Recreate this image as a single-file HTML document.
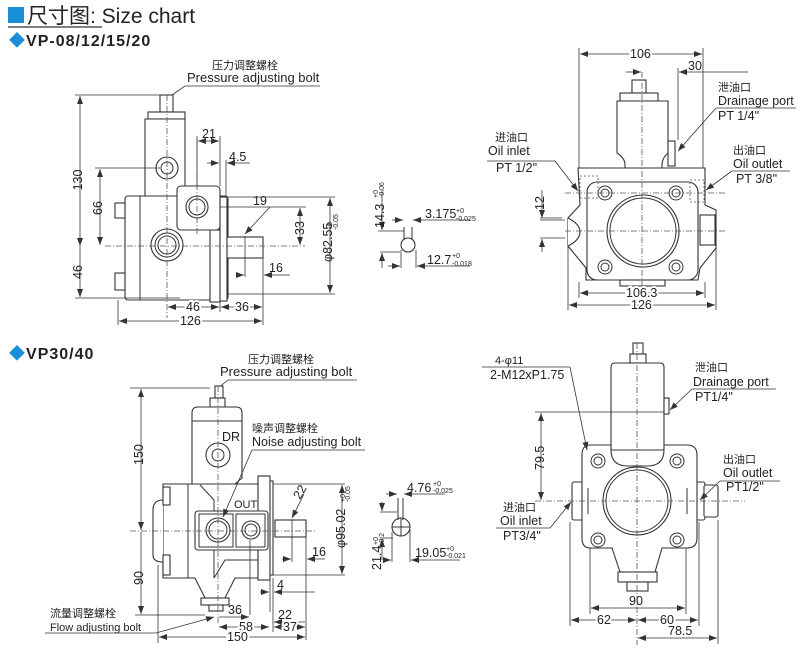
<!DOCTYPE html>
<html><head><meta charset="utf-8"><style>
html,body{margin:0;padding:0;background:#fff;width:811px;height:671px;overflow:hidden}
svg{display:block}
text{font-family:"Liberation Sans","Noto Sans CJK SC",sans-serif;fill:#222}
.l{stroke:#333;stroke-width:1;fill:none}
.b{stroke:#333;stroke-width:1.1;fill:#fff}
.c{stroke:#555;stroke-width:.8;fill:none;stroke-dasharray:6 2 1 2}
.h{stroke:#555;stroke-width:.8;fill:none;stroke-dasharray:2 2}
.d{stroke:#333;stroke-width:.8;fill:none}
.t{font-size:12.5px}
.s{font-size:11px}
.x{font-size:7px}
</style></head><body>
<svg width="811" height="671" viewBox="0 0 811 671" xmlns="http://www.w3.org/2000/svg">
<defs>
<marker id="a" markerWidth="8" markerHeight="6" refX="8" refY="3" orient="auto-start-reverse" markerUnits="userSpaceOnUse"><path d="M0,0 L8,3 L0,6z" fill="#333"/></marker>
</defs>
<!-- Title -->
<rect x="8" y="7" width="16" height="16" fill="#1a8fd8"/>
<text x="27" y="23" style="font-size:21px">尺寸图: Size chart</text>
<line x1="8" y1="27" x2="102" y2="27" stroke="#333" stroke-width="1.2"/>
<text x="9" y="46" style="font-size:16px;font-weight:bold;letter-spacing:1px"><tspan fill="#1a8fd8">◆</tspan>VP-08/12/15/20</text>
<text x="9" y="359" style="font-size:16px;font-weight:bold;letter-spacing:1px"><tspan fill="#1a8fd8">◆</tspan>VP30/40</text>

<!-- ===== VP08 side view ===== -->
<text x="212" y="69" class="s">压力调整螺栓</text>
<text x="187" y="82" class="t" style="font-size:13px">Pressure adjusting bolt</text>
<path class="d" d="M320,86 H185 L172,95"/>
<rect class="b" x="160" y="95" width="13" height="17"/>
<rect class="b" x="148" y="112" width="37" height="7"/>
<path class="b" d="M145,119 H185 V196 H145z"/>
<rect class="b" x="125" y="196" width="103" height="104" rx="3"/>
<rect class="b" x="115" y="203" width="10" height="15"/>
<rect class="b" x="115" y="273" width="10" height="17"/>
<line class="l" x1="140" y1="196" x2="140" y2="300"/>
<rect class="b" x="210" y="230" width="10" height="72"/>
<rect class="b" x="220" y="197" width="7" height="104"/>
<rect class="b" x="177" y="186" width="43" height="44" rx="4"/>
<rect class="b" x="227" y="237" width="36" height="21"/>
<circle class="b" cx="167" cy="168" r="11"/><circle class="l" cx="167" cy="168" r="6"/>
<circle class="b" cx="197" cy="207" r="11"/><circle class="l" cx="197" cy="207" r="8"/>
<circle class="b" cx="167" cy="245" r="16"/><circle class="l" cx="167" cy="245" r="12"/><circle class="l" cx="167" cy="245" r="9"/>
<line class="c" x1="167" y1="95" x2="167" y2="318"/>
<line class="c" x1="105" y1="246" x2="305" y2="246"/>
<line class="c" x1="197" y1="140" x2="197" y2="235"/>
<!-- dims -->
<line class="d" x1="75" y1="95" x2="160" y2="95"/>
<line class="d" x1="75" y1="298" x2="180" y2="298"/>
<line class="d" x1="80" y1="96" x2="80" y2="246" marker-start="url(#a)" marker-end="url(#a)"/>
<line class="d" x1="80" y1="246" x2="80" y2="297" marker-end="url(#a)"/>
<text transform="translate(82,180) rotate(-90)" class="t" text-anchor="middle">130</text>
<text transform="translate(82,272) rotate(-90)" class="t" text-anchor="middle">46</text>
<line class="d" x1="95" y1="168" x2="160" y2="168"/>
<line class="d" x1="100" y1="169" x2="100" y2="245" marker-start="url(#a)" marker-end="url(#a)"/>
<text transform="translate(102,208) rotate(-90)" class="t" text-anchor="middle">66</text>
<line class="d" x1="197" y1="136" x2="197" y2="186"/><line class="d" x1="220" y1="136" x2="220" y2="186"/>
<line class="d" x1="198" y1="141" x2="219" y2="141" marker-start="url(#a)" marker-end="url(#a)"/>
<text x="202" y="138" class="t">21</text>
<line class="d" x1="226" y1="160" x2="226" y2="196"/>
<line class="d" x1="207" y1="163" x2="219" y2="163" marker-end="url(#a)"/>
<line class="d" x1="238" y1="163" x2="227" y2="163" marker-end="url(#a)"/><line class="d" x1="238" y1="163" x2="250" y2="163"/>
<text x="229" y="161" class="t">4.5</text>
<line class="d" x1="220" y1="207" x2="306" y2="207"/>
<text x="253" y="205" class="t">19</text>
<line class="d" x1="270" y1="207" x2="245" y2="234" marker-end="url(#a)"/>
<line class="d" x1="245" y1="236" x2="245" y2="277"/>
<line class="d" x1="300" y1="208" x2="300" y2="245" marker-start="url(#a)" marker-end="url(#a)"/>
<text transform="translate(304,228) rotate(-90)" class="t" text-anchor="middle">33</text>
<line class="d" x1="228" y1="197" x2="335" y2="197"/><line class="d" x1="228" y1="294" x2="335" y2="294"/>
<line class="d" x1="330" y1="198" x2="330" y2="293" marker-start="url(#a)" marker-end="url(#a)"/>
<text transform="translate(332,262) rotate(-90)" class="t">φ82.55</text>
<text transform="translate(332,230) rotate(-90)" class="x">+0</text><text transform="translate(338,230) rotate(-90)" class="x">-0.05</text>
<line class="d" x1="240" y1="275" x2="244" y2="275" marker-end="url(#a)"/>
<line class="d" x1="280" y1="275" x2="264" y2="275" marker-end="url(#a)"/><line class="d" x1="280" y1="275" x2="290" y2="275"/>
<line class="d" x1="263" y1="258" x2="263" y2="325"/>
<text x="269" y="272" class="t">16</text>
<line class="d" x1="220" y1="302" x2="220" y2="312"/><line class="d" x1="118" y1="300" x2="118" y2="325"/>
<line class="d" x1="168" y1="307" x2="219" y2="307" marker-start="url(#a)" marker-end="url(#a)"/>
<text x="186" y="311" class="t" style="fill:#222;paint-order:stroke;stroke:#fff;stroke-width:4">46</text>
<line class="d" x1="221" y1="307" x2="262" y2="307" marker-start="url(#a)" marker-end="url(#a)"/>
<text x="235" y="311" class="t" style="paint-order:stroke;stroke:#fff;stroke-width:4">36</text>
<line class="d" x1="119" y1="321" x2="262" y2="321" marker-start="url(#a)" marker-end="url(#a)"/>
<text x="180" y="325" class="t" style="paint-order:stroke;stroke:#fff;stroke-width:4">126</text>

<!-- VP08 key -->
<circle class="b" cx="408" cy="245" r="7"/>
<line class="l" x1="404" y1="227" x2="404" y2="240"/><line class="l" x1="412" y1="227" x2="412" y2="240"/>
<line class="d" x1="378" y1="231" x2="404" y2="231"/>
<line class="d" x1="382" y1="190" x2="382" y2="230" marker-end="url(#a)"/>
<text transform="translate(384,228) rotate(-90)" class="t">14.3</text>
<text transform="translate(378,198) rotate(-90)" class="x">+0</text><text transform="translate(384,198) rotate(-90)" class="x">-0.06</text>
<line class="d" x1="392" y1="220" x2="403" y2="220" marker-end="url(#a)"/>
<line class="d" x1="423" y1="220" x2="413" y2="220" marker-end="url(#a)"/><line class="d" x1="423" y1="220" x2="470" y2="220"/>
<text x="425" y="218" class="t">3.175</text><text x="456" y="213" class="x">+0</text><text x="456" y="221" class="x">-0.025</text>
<line class="d" x1="380" y1="252" x2="400" y2="252"/>
<line class="d" x1="382" y1="268" x2="382" y2="253" marker-end="url(#a)"/>
<line class="d" x1="401" y1="250" x2="401" y2="268"/><line class="d" x1="416" y1="250" x2="416" y2="268"/>
<line class="d" x1="388" y1="266" x2="400" y2="266" marker-end="url(#a)"/>
<line class="d" x1="430" y1="266" x2="417" y2="266" marker-end="url(#a)"/><line class="d" x1="430" y1="266" x2="470" y2="266"/>
<text x="427" y="264" class="t">12.7</text><text x="452" y="258" class="x">+0</text><text x="452" y="266" class="x">-0.018</text>

<!-- ===== VP08 front view ===== -->
<rect class="b" x="632" y="80" width="14" height="13"/>
<rect class="b" x="620" y="93" width="38" height="8"/>
<path class="b" d="M617,101 H668 V153 Q662,158 662,165 V175 L672,182 H617 L625,175 V165 Q625,158 617,153z"/>
<rect class="b" x="668" y="141" width="7" height="25"/>
<path class="b" d="M578,168 H705 V205 L716,210 L716,248 L700,268 L698,280 H586 V268 L568,246 V218 L580,205z"/>
<path class="b" d="M568,218 Q580,224 580,232 Q580,240 568,246"/>
<rect class="b" x="700" y="215" width="15" height="30"/>
<rect class="b" x="587" y="182" width="111" height="98" rx="10"/>
<rect class="b" x="620" y="280" width="45" height="6"/>
<circle class="b" cx="643" cy="231" r="36"/><circle class="l" cx="643" cy="231" r="33"/>
<g class="l"><circle cx="605" cy="193" r="7"/><circle cx="605" cy="193" r="4"/><circle cx="676" cy="193" r="7"/><circle cx="676" cy="193" r="4"/><circle cx="605" cy="267" r="7"/><circle cx="605" cy="267" r="4"/><circle cx="676" cy="267" r="7"/><circle cx="676" cy="267" r="4"/></g>
<rect class="h" x="580" y="176" width="18" height="22"/><rect class="h" x="690" y="180" width="14" height="22"/>
<line class="c" x1="642" y1="72" x2="642" y2="290"/>
<line class="c" x1="565" y1="231" x2="725" y2="231"/>
<line class="c" x1="565" y1="193" x2="725" y2="193"/>
<line class="d" x1="579" y1="48" x2="579" y2="168"/><line class="d" x1="703" y1="48" x2="703" y2="168"/>
<line class="d" x1="580" y1="54" x2="702" y2="54" marker-start="url(#a)" marker-end="url(#a)"/>
<text x="630" y="58" class="t" style="paint-order:stroke;stroke:#fff;stroke-width:4">106</text>
<line class="d" x1="626" y1="72" x2="641" y2="72" marker-end="url(#a)"/>
<line class="d" x1="748" y1="72" x2="679" y2="72" marker-end="url(#a)"/>
<line class="d" x1="678" y1="68" x2="678" y2="140"/>
<text x="688" y="70" class="t">30</text>
<text x="718" y="91" class="s">泄油口</text>
<text x="718" y="105" class="t">Drainage port</text>
<line class="d" x1="716" y1="108" x2="796" y2="108"/>
<text x="718" y="120" class="t">PT 1/4"</text>
<line class="d" x1="716" y1="108" x2="678" y2="151" marker-end="url(#a)"/>
<text x="495" y="141" class="s">进油口</text>
<text x="488" y="155" class="t">Oil inlet</text>
<line class="d" x1="487" y1="161" x2="555" y2="161"/>
<text x="496" y="172" class="t">PT 1/2"</text>
<line class="d" x1="555" y1="161" x2="578" y2="191" marker-end="url(#a)"/>
<text x="733" y="154" class="s">出油口</text>
<text x="733" y="168" class="t">Oil outlet</text>
<line class="d" x1="732" y1="171" x2="790" y2="171"/>
<text x="736" y="183" class="t">PT 3/8"</text>
<line class="d" x1="732" y1="171" x2="706" y2="190" marker-end="url(#a)"/>
<line class="d" x1="540" y1="218" x2="562" y2="218"/>
<line class="d" x1="540" y1="238" x2="565" y2="238"/><line class="d" x1="540" y1="220" x2="565" y2="220"/>
<line class="d" x1="542" y1="190" x2="542" y2="218" marker-end="url(#a)"/>
<line class="d" x1="542" y1="252" x2="542" y2="239" marker-end="url(#a)"/>
<text transform="translate(544,210) rotate(-90)" class="t">12</text>
<line class="d" x1="579" y1="282" x2="579" y2="298"/><line class="d" x1="705" y1="282" x2="705" y2="298"/>
<line class="d" x1="568" y1="246" x2="568" y2="310"/><line class="d" x1="716" y1="248" x2="716" y2="310"/>
<line class="d" x1="580" y1="293" x2="704" y2="293" marker-start="url(#a)" marker-end="url(#a)"/>
<text x="626" y="297" class="t" style="paint-order:stroke;stroke:#fff;stroke-width:4">106.3</text>
<line class="d" x1="569" y1="305" x2="715" y2="305" marker-start="url(#a)" marker-end="url(#a)"/>
<text x="631" y="309" class="t" style="paint-order:stroke;stroke:#fff;stroke-width:4">126</text>

<!-- ===== VP30 side view ===== -->
<text x="248" y="363" class="s">压力调整螺栓</text>
<text x="220" y="376" class="t" style="font-size:13px">Pressure adjusting bolt</text>
<path class="d" d="M357,380 H228 L218,388"/>
<rect class="b" x="215" y="386" width="8" height="12"/>
<rect class="b" x="210" y="398" width="15" height="9"/>
<path class="b" d="M198,407 H236 Q242,407 242,413 V478 L235,484 H192 V413 Q192,407 198,407z"/>
<line class="l" x1="192" y1="421" x2="242" y2="421"/>
<text x="222" y="441" class="t">DR</text>
<circle class="b" cx="218" cy="455" r="12"/><circle class="l" cx="218" cy="455" r="6"/>
<path class="b" d="M163,484 H258 V578 H235 L225,598 H205 L195,578 H163z"/>
<path class="b" d="M163,500 Q153,500 153,510 V555 Q153,562 163,562"/>
<rect class="b" x="163" y="487" width="7" height="18"/><rect class="b" x="163" y="555" width="7" height="20"/>
<line class="l" x1="188" y1="484" x2="188" y2="578"/>
<path class="l" d="M200,485 L214,500 V578"/>
<path class="l" d="M258,560 H225 L214,578"/>
<rect class="b" x="201" y="598" width="28" height="7"/><rect class="b" x="209" y="605" width="14" height="6"/>
<rect class="b" x="258" y="476" width="12" height="104"/>
<rect class="b" x="270" y="481" width="3" height="94"/>
<rect class="b" x="195" y="511" width="73" height="39" rx="3"/>
<rect class="l" x="199" y="514" width="34" height="33"/><rect class="l" x="236" y="514" width="29" height="33"/>
<circle class="b" cx="218" cy="530" r="12"/><circle class="l" cx="218" cy="530" r="9"/>
<circle class="b" cx="251" cy="530" r="9"/><circle class="l" cx="251" cy="530" r="6"/>
<text x="234" y="508" class="s">OUT</text>
<rect class="b" x="275" y="520" width="31" height="17"/>
<line class="c" x1="218" y1="386" x2="218" y2="625"/>
<line class="c" x1="130" y1="531" x2="315" y2="531"/>
<text x="252" y="432" class="s">噪声调整螺栓</text>
<text x="252" y="446" class="t">Noise adjusting bolt</text>
<path class="d" d="M365,450 H252 L223,517" marker-end="url(#a)"/>
<line class="d" x1="130" y1="388" x2="210" y2="388"/>
<line class="d" x1="141" y1="389" x2="141" y2="530" marker-start="url(#a)" marker-end="url(#a)"/>
<line class="d" x1="141" y1="532" x2="141" y2="614" marker-end="url(#a)"/>
<line class="d" x1="135" y1="615" x2="205" y2="615"/>
<text transform="translate(143,465) rotate(-90)" class="t">150</text>
<text transform="translate(143,585) rotate(-90)" class="t">90</text>
<text transform="translate(300,500) rotate(-60)" class="t">22</text>
<line class="d" x1="304" y1="494" x2="292" y2="518" marker-end="url(#a)"/>
<line class="d" x1="292" y1="520" x2="292" y2="562"/>
<line class="d" x1="273" y1="484" x2="345" y2="484"/><line class="d" x1="273" y1="575" x2="345" y2="575"/>
<line class="d" x1="342" y1="485" x2="342" y2="574" marker-start="url(#a)" marker-end="url(#a)"/>
<text transform="translate(345,548) rotate(-90)" class="t">φ95.02</text>
<text transform="translate(345,502) rotate(-90)" class="x">+0</text><text transform="translate(350,502) rotate(-90)" class="x">-0.05</text>
<line class="d" x1="306" y1="537" x2="306" y2="640"/>
<line class="d" x1="282" y1="559" x2="291" y2="559" marker-end="url(#a)"/>
<line class="d" x1="325" y1="559" x2="307" y2="559" marker-end="url(#a)"/>
<text x="312" y="556" class="t">16</text>
<line class="d" x1="270" y1="580" x2="270" y2="612"/><line class="d" x1="273" y1="578" x2="273" y2="632"/>
<line class="d" x1="260" y1="592" x2="269" y2="592" marker-end="url(#a)"/>
<line class="d" x1="315" y1="592" x2="274" y2="592" marker-end="url(#a)"/>
<text x="277" y="589" class="t">4</text>
<line class="d" x1="250" y1="540" x2="250" y2="615"/>
<line class="d" x1="219" y1="617" x2="249" y2="617" marker-end="url(#a)"/>
<text x="228" y="614" class="t">36</text>
<line class="d" x1="274" y1="622" x2="305" y2="622" marker-start="url(#a)"/>
<text x="278" y="619" class="t">22</text>
<line class="d" x1="219" y1="627" x2="269" y2="627" marker-start="url(#a)" marker-end="url(#a)"/>
<text x="239" y="631" class="t" style="paint-order:stroke;stroke:#fff;stroke-width:4">58</text>
<line class="d" x1="274" y1="627" x2="305" y2="627" marker-start="url(#a)" marker-end="url(#a)"/>
<text x="283" y="631" class="t" style="paint-order:stroke;stroke:#fff;stroke-width:4">37</text>
<line class="d" x1="158" y1="565" x2="158" y2="643"/>
<line class="d" x1="159" y1="637" x2="305" y2="637" marker-start="url(#a)" marker-end="url(#a)"/>
<text x="227" y="641" class="t" style="paint-order:stroke;stroke:#fff;stroke-width:4">150</text>
<text x="50" y="617" class="s">流量调整螺栓</text>
<text x="50" y="631" class="s">Flow adjusting bolt</text>
<path class="d" d="M45,633 H156 L214,617" marker-end="url(#a)"/>

<!-- VP30 key -->
<circle class="b" cx="401" cy="527" r="9"/>
<line class="l" x1="398" y1="498" x2="398" y2="520"/><line class="l" x1="403" y1="498" x2="403" y2="520"/>
<line class="l" x1="392" y1="527" x2="410" y2="527"/><line class="l" x1="401" y1="518" x2="401" y2="536"/>
<line class="d" x1="380" y1="512" x2="397" y2="512"/>
<line class="d" x1="382" y1="502" x2="382" y2="511" marker-end="url(#a)"/>
<line class="d" x1="386" y1="494" x2="397" y2="494" marker-end="url(#a)"/>
<line class="d" x1="418" y1="494" x2="404" y2="494" marker-end="url(#a)"/><line class="d" x1="418" y1="494" x2="445" y2="494"/>
<text x="407" y="492" class="t">4.76</text><text x="433" y="486" class="x">+0</text><text x="433" y="493" class="x">-0.025</text>
<line class="d" x1="380" y1="538" x2="393" y2="538"/>
<line class="d" x1="382" y1="560" x2="382" y2="539" marker-end="url(#a)"/>
<line class="d" x1="392" y1="532" x2="392" y2="562"/><line class="d" x1="410" y1="530" x2="410" y2="562"/>
<line class="d" x1="384" y1="560" x2="391" y2="560" marker-end="url(#a)"/>
<line class="d" x1="430" y1="560" x2="411" y2="560" marker-end="url(#a)"/><line class="d" x1="430" y1="560" x2="460" y2="560"/>
<text transform="translate(381,570) rotate(-90)" class="t">21.4</text>
<text transform="translate(378,545) rotate(-90)" class="x">+0</text><text transform="translate(384,545) rotate(-90)" class="x">-0.2</text>
<text x="415" y="557" class="t">19.05</text><text x="446" y="551" class="x">+0</text><text x="446" y="558" class="x">-0.021</text>

<!-- ===== VP30 front view ===== -->
<rect class="b" x="633" y="343" width="10" height="11"/>
<rect class="b" x="630" y="354" width="16" height="9"/>
<path class="b" d="M615,363 H660 Q664,363 664,367 V450 H611 V367 Q611,363 615,363z"/>
<rect class="b" x="664" y="398" width="5" height="16"/>
<rect class="b" x="572" y="482" width="14" height="38" rx="2"/>
<rect class="b" x="690" y="482" width="15" height="38" rx="2"/>
<rect class="b" x="704" y="485" width="14" height="32" rx="2"/>
<path class="b" d="M590,445 H611 V450 Q611,466 628,466 H647 Q664,466 664,450 V445 H687 Q697,445 697,455 V538 Q697,548 687,548 H662 L655,572 H620 L612,548 H590 Q582,548 582,538 V455 Q582,445 590,445z"/>
<rect class="b" x="618" y="572" width="39" height="10"/><rect class="b" x="627" y="582" width="21" height="9"/>
<circle class="b" cx="637" cy="501" r="34"/><circle class="l" cx="637" cy="501" r="31"/>
<g class="l"><circle cx="598" cy="461" r="7"/><circle cx="598" cy="461" r="4"/><circle cx="677" cy="461" r="7"/><circle cx="677" cy="461" r="4"/><circle cx="598" cy="540" r="7"/><circle cx="598" cy="540" r="4"/><circle cx="677" cy="540" r="7"/><circle cx="677" cy="540" r="4"/></g>
<line class="l" x1="588" y1="488" x2="588" y2="514"/><line class="l" x1="687" y1="488" x2="687" y2="514"/>
<line class="c" x1="637" y1="343" x2="637" y2="645"/>
<line class="c" x1="535" y1="501" x2="745" y2="501"/>
<text x="495" y="364" class="s">4-φ11</text>
<line class="d" x1="482" y1="367" x2="570" y2="367"/>
<text x="490" y="379" class="t">2-M12xP1.75</text>
<line class="d" x1="570" y1="367" x2="587" y2="450" marker-end="url(#a)"/>
<text x="695" y="371" class="s">泄油口</text>
<text x="693" y="386" class="t">Drainage port</text>
<line class="d" x1="692" y1="389" x2="776" y2="389"/>
<text x="695" y="401" class="t">PT1/4"</text>
<line class="d" x1="692" y1="389" x2="670" y2="410" marker-end="url(#a)"/>
<text x="723" y="463" class="s">出油口</text>
<text x="723" y="477" class="t">Oil outlet</text>
<line class="d" x1="720" y1="481" x2="780" y2="481"/>
<text x="726" y="491" class="t">PT1/2"</text>
<line class="d" x1="720" y1="481" x2="700" y2="500" marker-end="url(#a)"/>
<text x="503" y="511" class="s">进油口</text>
<text x="500" y="525" class="t">Oil inlet</text>
<line class="d" x1="496" y1="528" x2="550" y2="528"/>
<text x="503" y="540" class="t">PT3/4"</text>
<line class="d" x1="550" y1="528" x2="571" y2="502" marker-end="url(#a)"/>
<line class="d" x1="535" y1="412" x2="664" y2="412"/>
<line class="d" x1="541" y1="413" x2="541" y2="500" marker-start="url(#a)" marker-end="url(#a)"/>
<text transform="translate(544,470) rotate(-90)" class="t">79.5</text>
<line class="d" x1="590" y1="548" x2="590" y2="614"/><line class="d" x1="686" y1="548" x2="686" y2="614"/>
<line class="d" x1="570" y1="522" x2="570" y2="626"/><line class="d" x1="699" y1="522" x2="699" y2="626"/>
<line class="d" x1="718" y1="520" x2="718" y2="644"/>
<line class="d" x1="591" y1="608" x2="685" y2="608" marker-start="url(#a)" marker-end="url(#a)"/>
<text x="629" y="605" class="t">90</text>
<line class="d" x1="571" y1="620" x2="636" y2="620" marker-start="url(#a)" marker-end="url(#a)"/>
<text x="597" y="624" class="t" style="paint-order:stroke;stroke:#fff;stroke-width:4">62</text>
<line class="d" x1="638" y1="620" x2="698" y2="620" marker-start="url(#a)" marker-end="url(#a)"/>
<text x="660" y="624" class="t" style="paint-order:stroke;stroke:#fff;stroke-width:4">60</text>
<line class="d" x1="638" y1="638" x2="717" y2="638" marker-start="url(#a)" marker-end="url(#a)"/>
<text x="668" y="635" class="t">78.5</text>
</svg>
</body></html>
